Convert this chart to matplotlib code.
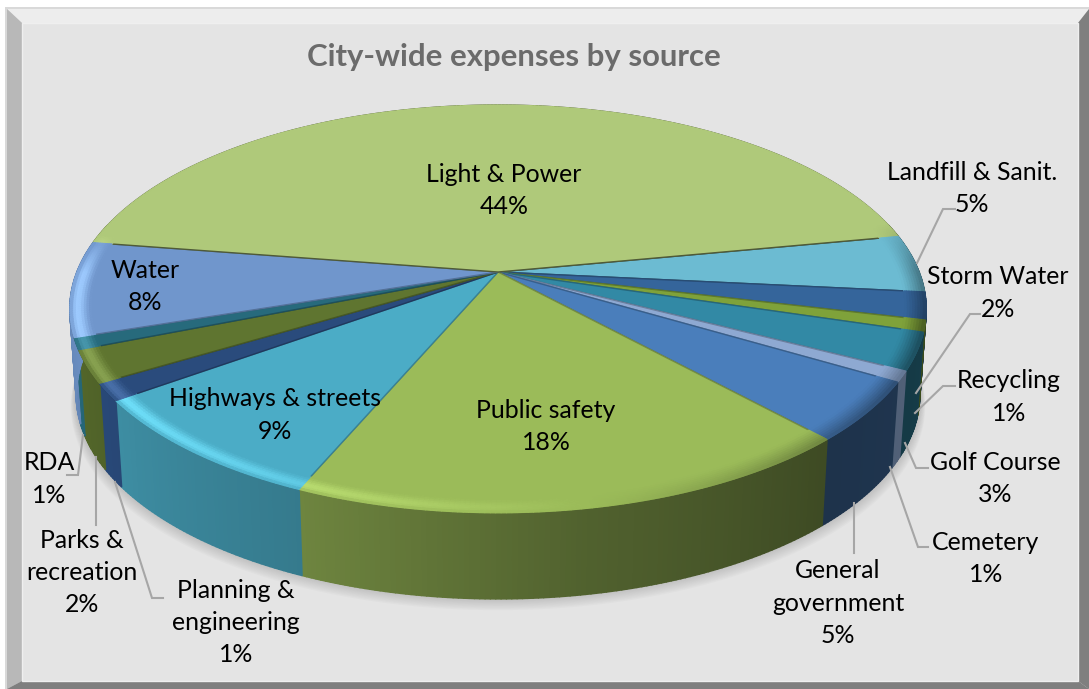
import numpy as np
import matplotlib
matplotlib.use("Agg")
import matplotlib.pyplot as plt
from matplotlib.patches import Polygon
from matplotlib.collections import PolyCollection
from matplotlib.colors import to_rgb

plt.rcParams['font.family'] = ['Lato', 'DejaVu Sans']

# ---- data (clockwise from the Water / Light & Power boundary)
names = ["Light & Power", "Landfill & Sanit.", "Storm Water", "Recycling", "Golf Course",
         "Cemetery", "General\ngovernment", "Public safety", "Highways & streets",
         "Planning &\nengineering", "Parks &\nrecreation", "RDA", "Water"]
shares = [44.6, 4.56, 2.17, 0.92, 2.95, 0.85, 4.7, 18.3, 8.64, 1.36, 2.56, 0.92, 7.53]
pct_labels = ["44%", "5%", "2%", "1%", "3%", "1%", "5%", "18%", "9%", "1%", "2%", "1%", "8%"]

# ---- styles
top_colors = ["#AFC97A", "#6CBBD2", "#35659B", "#7FA23A", "#3289A5", "#8EA9D2", "#4A7EBB",
              "#9BBB59", "#4BACC6", "#2A4B7C", "#5F7530", "#276A7C", "#7096CC"]
side_gain = [1, 1, 1.1, 1, 1, 1.35, 1, 1, 1, 1.15, 1, 1.1, 1]
label_pos = [(504, 174), (972, 172), (998, 277), (1009, 381), (995, 462), (986, 542),
             (838, 571), (546, 410), (275, 399), (236, 590), (82, 540), (49, 463), (145, 270)]
leaders = [[(917, 263), (943, 209), (955, 209)],
           [(916, 393), (970, 314), (980, 314)],
           [(915, 413), (943, 386), (955, 386)],
           [(905, 443), (916, 468), (928, 468)],
           [(890, 467), (918, 547), (928, 547)],
           [(854, 503), (854, 553)],
           [(83, 435), (78, 475), (67, 475)],
           [(96, 457), (96, 525)],
           [(115, 482), (152, 598), (163, 598)]]
START = 171.2
CX, CY, A, B, K = 498.0, 272.0, 197.2, 421.0, 0.181
DEPTH, SHRINK = 86.0, 0.985
W, H = 1089, 689
LINE = 32.3
FS = 17.9


def proj(theta, r=1.0):
    t = np.radians(theta)
    den = 1 + K * r * np.sin(t)
    return CX + B * r * np.cos(t) / den, CY - A * r * np.sin(t) / den


def proj_bottom(theta):
    x, y = proj(theta)
    return CX + (x - CX) * SHRINK, y + DEPTH


def side_factor(theta):
    return np.interp(theta % 360, [0, 180, 216, 247, 280, 312, 340, 360],
                     [0.6, 0.95, 0.82, 0.71, 0.52, 0.40, 0.43, 0.6])


def rim_h(theta):
    h = np.cos(np.radians(theta - 190))
    s = np.sin(np.radians(theta))
    if h < 0:
        h *= np.clip(1 - s / 0.25, 0, 1) * 0.9
    else:
        h *= np.clip(1 - s / 0.2, 0, 1)
    return h


fig = plt.figure(figsize=(W / 100, H / 100), dpi=100, facecolor="white")
ax = fig.add_axes([0, 0, 1, 1])
ax.set_xlim(0, W)
ax.set_ylim(H, 0)
ax.axis("off")

# ---- bevelled frame
L, T, R, Bt = 5, 7, 1089, 689
iL, iT, iR, iB = 22, 23, 1078, 681
ax.add_patch(Polygon([(L, T), (R, T), (R, Bt), (L, Bt)], fc="#D9D9D9", ec="none", zorder=0))
ax.add_patch(Polygon([(L + 2, T + 2), (R, T + 2), (iR, iT), (iL, iT)], fc="#EDEDED", ec="none", zorder=1))
ax.add_patch(Polygon([(L + 2, T + 2), (iL, iT), (iL, iB), (L + 2, Bt)], fc="#B8B8B8", ec="none", zorder=1))
ax.add_patch(Polygon([(L + 2, Bt), (iL, iB), (iR, iB), (R, Bt)], fc="#7F7F7F", ec="none", zorder=1))
ax.add_patch(Polygon([(R, T + 2), (R, Bt), (iR, iB), (iR, iT)], fc="#7F7F7F", ec="none", zorder=1))
ax.add_patch(Polygon([(iL, iT), (iR, iT), (iR, iB), (iL, iB)], fc="#E4E4E4", ec="#EFEFEF", lw=1, zorder=2))

# ---- angles from the values
vals = np.array(shares, dtype=float)
edges = START - np.concatenate([[0], np.cumsum(vals)]) / vals.sum() * 360

# ---- soft shadow below the pie
all_th = np.linspace(0, 360, 361)
bx, by = proj_bottom(all_th)
for i in range(12):
    sc = 1 + 0.0012 * i
    ax.add_patch(Polygon(np.c_[CX + (bx - CX) * sc, by + 1.4 * i - 4], fc="#808080", alpha=0.045,
                         ec="none", zorder=3))

# ---- sides
polys, cols = [], []
for i, c in enumerate(top_colors):
    rgb = np.array(to_rgb(c))
    a0, a1 = edges[i], edges[i + 1]
    n = max(2, int(abs(a0 - a1) / 0.6))
    th = np.linspace(a0, a1, n + 1)
    for t0, t1 in zip(th[:-1], th[1:]):
        if np.sin(np.radians((t0 + t1) / 2)) > 0.25:
            continue
        x0, y0 = proj(t0)
        x1, y1 = proj(t1)
        x2, y2 = proj_bottom(t1)
        x3, y3 = proj_bottom(t0)
        polys.append([(x0, y0), (x1, y1), (x2, y2), (x3, y3)])
        cols.append(np.clip(rgb * side_factor((t0 + t1) / 2) * side_gain[i], 0, 1))
ax.add_collection(PolyCollection(polys, facecolors=cols, edgecolors=cols, linewidths=1.2, zorder=4))

# ---- top faces
for i, c in enumerate(top_colors):
    rgb = np.array(to_rgb(c))
    th = np.linspace(edges[i], edges[i + 1], max(4, int(abs(edges[i] - edges[i + 1]) * 2)))
    x, y = proj(th)
    pts = np.vstack([[CX, CY], np.c_[x, y]])
    edge = rgb * (0.45 if i in (0, 1) else 0.75)
    ax.add_patch(Polygon(pts, fc=c, ec=edge, lw=1.0, joinstyle="miter", zorder=5 + (0.5 if i == 0 else 0)))

# ---- bevelled rim on the top faces
polys, cols = [], []
radii = np.linspace(0.952, 1.0, 9)
for i, c in enumerate(top_colors):
    rgb = np.array(to_rgb(c))
    a0, a1 = edges[i], edges[i + 1]
    n = max(2, int(abs(a0 - a1) / 0.6))
    th = np.linspace(a0, a1, n + 1)
    for t0, t1 in zip(th[:-1], th[1:]):
        tm = (t0 + t1) / 2
        h = rim_h(tm)
        sc = np.clip(rgb * side_factor(tm) * side_gain[i], 0, 1)
        for j, (r0, r1) in enumerate(zip(radii[:-1], radii[1:])):
            u = (j + 0.5) / (len(radii) - 1)
            if h >= 0:
                bright = np.clip(rgb * 1.18 + 0.10, 0, 1)
                col = rgb + (bright - rgb) * h * np.sin(np.pi * u ** 1.6)
            else:
                col = rgb + (sc - rgb) * (-h) * u ** 1.2
            x0, y0 = proj(t0, r0)
            x1, y1 = proj(t1, r0)
            x2, y2 = proj(t1, r1)
            x3, y3 = proj(t0, r1)
            polys.append([(x0, y0), (x1, y1), (x2, y2), (x3, y3)])
            cols.append(np.clip(col, 0, 1))
ax.add_collection(PolyCollection(polys, facecolors=cols, edgecolors=cols, linewidths=0.8, zorder=6))

# ---- leader lines
for pts in leaders:
    p = np.array(pts)
    ax.plot(p[:, 0], p[:, 1], color="#A6A6A6", lw=1.5, zorder=7, solid_joinstyle="miter")

# ---- labels
for name, pct, (x, y) in zip(names, pct_labels, label_pos):
    for j, line in enumerate(name.split("\n") + [pct]):
        ax.text(x, y + j * LINE, line, ha="center", va="center", fontsize=FS, color="#000000", zorder=8)

ax.text(514, 57, "City-wide expenses by source", ha="center", va="center", fontsize=22.4,
        fontweight="bold", color="#6B6B6B", zorder=8)

fig.savefig("out.png", dpi=100, facecolor="white")
